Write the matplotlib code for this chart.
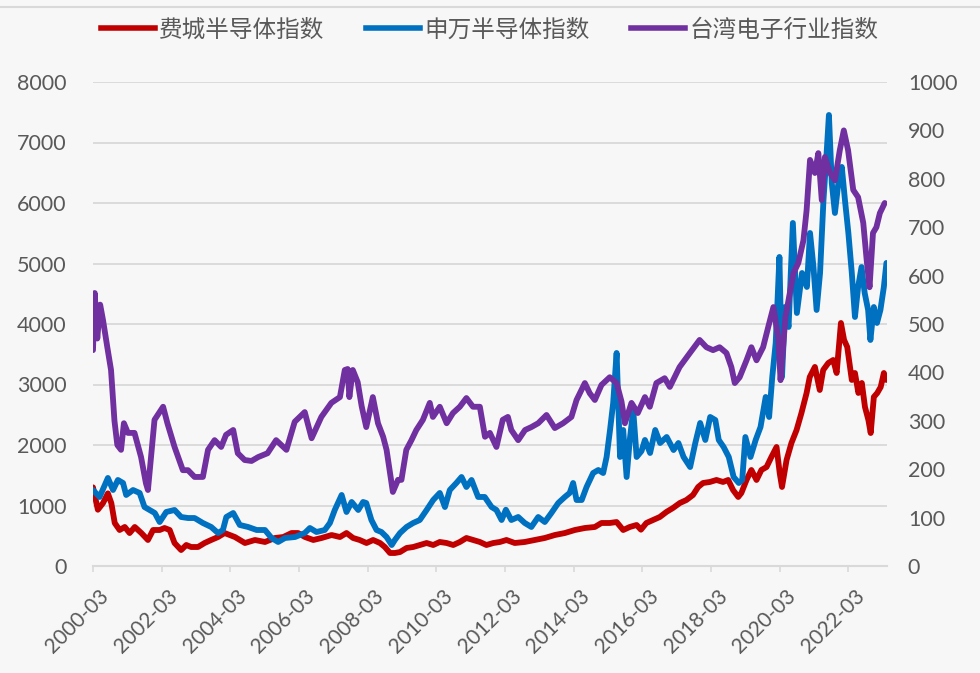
import matplotlib
matplotlib.use("Agg")
import matplotlib.pyplot as plt
from matplotlib import font_manager
from matplotlib.lines import Line2D
from matplotlib.transforms import ScaledTranslation

# ---------------- data (x = months since 2000-03) ----------------
sox_x = [0, 1.7, 3.5, 5.2, 6.4, 7.6, 9.3, 11.1, 12.8, 14.6, 16.9, 19.2, 21, 23.3, 25, 26.8, 28.5, 30.8,
         32.6, 34.3, 36.7, 39, 41.3, 43.7, 46, 49.6, 53.1, 56.6, 60.1, 63.6, 66.5, 69.4, 71.7, 74.1, 77,
         79.9, 83.4, 86.3, 88.6, 90.9, 93.2, 95.6, 97.9, 100.3, 102, 103.8, 105.5, 107.3, 109.6, 111.9,
         114.2, 116.6, 118.9, 121.2, 123.6, 125.9, 128.2, 130.5, 132.9, 135.2, 137.5, 139.9, 142.2, 144.5,
         147.4, 150.9, 154.4, 157.9, 161.4, 164.9, 168.4, 171.9, 175.4, 177.7, 180.6, 183, 185.3, 187.6,
         190, 191.5, 193.4, 195.7, 198.1, 200.4, 202.7, 205.1, 207.4, 209.7, 211.5, 213.2, 215.6, 217.9,
         220.2, 222, 223.7, 225.5, 226.6, 228.4, 230.1, 231.9, 233.6, 235.4, 237.1, 238.9, 240, 240.8,
         242.4, 244.1, 245.9, 247.6, 249.4, 250.5, 252.3, 254, 255.2, 257, 258.7, 259.9, 261.4, 262.5,
         263.6, 265.2, 266.3, 267.5, 268.7, 269.8, 271, 271.8, 272.9, 274.1, 275.3, 276.4, 277.3]
sox_v = [1300, 930, 1040, 1200, 1040, 710, 595, 645, 545, 645, 545, 430, 595, 595, 628, 595, 380, 264,
         347, 314, 314, 380, 430, 479, 545, 479, 380, 430, 397, 463, 479, 545, 545, 479, 430,
         463, 512, 479, 545, 463, 430, 380, 430, 380, 314, 215, 215, 231, 298, 314,
         347, 380, 347, 397, 380, 347, 397, 463, 430, 397, 347, 380, 397, 430,
         380, 397, 430, 463, 512, 545, 595, 628, 645, 711, 711, 727, 595, 645,
         678, 600, 711, 760, 810, 893, 959, 1041, 1091, 1174, 1306, 1372, 1389, 1422,
         1389, 1422, 1256, 1141, 1207, 1422, 1587, 1422, 1587, 1636, 1802, 1967, 1537, 1306,
         1752, 2033, 2248, 2529, 2860, 3124, 3290, 2909, 3240, 3356, 3405, 3190, 4017, 3736,
         3620, 3075, 3190, 2860, 3025, 2628, 2413, 2198, 2794, 2860, 2959, 3190, 3075]

sw_x = [0, 2.3, 5.2, 7, 8.7, 10.5, 11.6, 14, 16.3, 18, 19.8, 21.6, 23.3, 25.6, 28.5, 30.8, 33.2, 35.5,
        38.4, 41.3, 43.7, 45.4, 46.6, 49, 51.3, 54.2, 57.2, 60.1, 62.4, 64.7, 67.1, 70.6, 74, 75.8, 78.1,
        81, 82.8, 84.5, 86.9, 88.6, 90.4, 92.7, 94.4, 95.5, 97.3, 99.1, 100.8, 102.6, 104.4, 105.5, 107.3,
        109.6, 111.9, 114.2, 116.6, 118.9, 121.2, 123, 124.7, 127, 128.8, 130.5, 132.3, 134.6, 136.9,
        139.3, 141, 142.8, 144.3, 146.2, 148.6, 150.9, 153.2, 155.6, 157.9, 160.2, 162.6, 164.9, 166.6,
        167.8, 169, 170.8, 172.5, 174.8, 176.6, 178.3, 179.5, 180.7, 181.8, 183, 184.2, 185.3, 186.5,
        187.6, 188.8, 190, 191.7, 192.9, 194.7, 196.5, 198.2, 200.5, 202.9, 204.6, 206.4, 208.7, 210.5,
        212.2, 214, 215.7, 217.5, 218.7, 220.4, 222.2, 223.9, 225.7, 226.9, 228, 229.8, 231.6, 233.3,
        235.1, 236.3, 237.4, 238.6, 239.9, 240.8, 241.9, 243.1, 244.6, 246, 247.8, 249.5, 250.6, 251.8,
        252.9, 254.1, 255.3, 256.4, 257.2, 258.2, 259.3, 260.5, 261.7, 262.8, 264, 265.2, 266.3, 267.4,
        268.6, 269.7, 270.9, 271.7, 272.9, 274, 275.2, 276.4, 277.3]
sw_v = [1256, 1141, 1455, 1256, 1422, 1372, 1174, 1256, 1207, 975, 926, 876, 727, 893, 926, 810, 793, 793,
        711, 645, 545, 595, 810, 876, 678, 645, 595, 595, 463, 397, 463, 479, 545, 628, 562,
        595, 711, 926, 1174, 893, 1058, 926, 1058, 1041, 760, 595, 562, 479, 347, 430, 545,
        645, 711, 760, 926, 1091, 1207, 975, 1256, 1372, 1471, 1306, 1422, 1141, 1141,
        975, 926, 760, 930, 760, 810, 711, 645, 810, 727, 876, 1041, 1141, 1207,
        1372, 1091, 1091, 1306, 1537, 1587, 1537, 1802, 2248, 2694, 3521, 1802, 2248, 1471,
        2083, 2579, 1802, 1900, 2083, 1868, 2248, 2033, 2132, 1917, 2033, 1802, 1636, 2033,
        2364, 2083, 2463, 2413, 2083, 1967, 1802, 1471, 1372, 1422, 2132, 1802, 2083, 2298,
        2794, 2463, 3124, 3686, 5108, 3124, 4281, 3951, 5670, 4182, 4843, 4612, 5504, 4942,
        4232, 4843, 6050, 6827, 7455, 6331, 5835, 6331, 6596, 6050, 5504, 4843, 4116, 4612,
        4942, 4513, 4232, 3736, 4281, 4017, 4232, 4612, 5009]

tw_x = [0, 0.6, 1.5, 2.5, 3.5, 5, 6.3, 7.5, 8.5, 9.8, 10.8, 12.2, 14.5, 16.8, 18.5, 19.2, 21.5, 24.5, 26,
        28.5, 31.4, 33.2, 35.5, 38.4, 40.2, 42.5, 44.8, 46.5, 49, 50.6, 53, 55.4, 57.7, 61, 64, 67.6, 70.5,
        74, 76.4, 79.8, 83.3, 86.3, 88, 89, 89.6, 90.8, 92.5, 93.9, 95.5, 97.8, 99.6, 101.4, 102.6, 103.8,
        104.8, 106.6, 107.8, 109.5, 111.3, 113, 115.3, 117.7, 118.8, 121.2, 123.6, 125.8, 128.2, 130.5,
        132.8, 135.2, 137, 138.7, 141, 143.2, 145, 146.2, 148.6, 151, 153.2, 155.6, 158.5, 161.4, 164.3,
        167.2, 169, 171.9, 173.6, 175.4, 177.7, 180.6, 183, 184.7, 185.9, 188.2, 190.4, 192.9, 194.6,
        196.9, 199.8, 201.6, 205, 208.6, 212, 214.4, 216.7, 219, 221.4, 223.1, 224.3, 226, 228.4, 230.1,
        231.9, 234.2, 236, 237.8, 239.5, 240.3, 242, 244.8, 246.5, 248.3, 249.4, 250.6, 252.3, 253.5,
        254.7, 255.8, 257.6, 259.3, 261, 262.4, 263.9, 265.7, 267.4, 269.2, 270.4, 271.4, 272.6, 273.8,
        275, 276.7]
tw_v = [446, 564, 470, 540, 508, 452, 405, 300, 250, 240, 295, 275, 275, 225, 171, 157, 302, 329, 295,
        246, 198, 198, 184, 184, 240, 260, 246, 271, 281, 233, 219, 217, 225, 233, 260, 240, 298,
        318, 264, 308, 337, 349, 405, 407, 349, 405, 380, 330, 287, 349, 295, 267, 240, 192,
        153, 178, 178, 240, 260, 281, 302, 337, 308, 329, 295, 316, 329, 347,
        329, 329, 267, 275, 246, 302, 308, 281, 260, 281, 287, 295, 312, 285, 295,
        308, 343, 378, 357, 343, 374, 390, 378, 340, 295, 337, 316, 349, 329,
        378, 388, 370, 411, 440, 467, 452, 446, 452, 440, 411, 378, 390, 425, 452,
        425, 452, 494, 535, 470, 384, 514, 605, 626, 673, 735, 839, 812, 853,
        756, 845, 812, 797, 859, 900, 859, 777, 762, 709, 632, 576, 688, 700,
        729, 750]

tick_pos = [0, 24, 48, 72, 96, 120, 144, 168, 192, 216, 240, 264]
tick_labels = ["2000-03", "2002-03", "2004-03", "2006-03", "2008-03", "2010-03",
               "2012-03", "2014-03", "2016-03", "2018-03", "2020-03", "2022-03"]
series_names = ["费城半导体指数", "申万半导体指数", "台湾电子行业指数"]
colors = ["#C00000", "#0070C0", "#7030A0"]

# ---------------- fonts ----------------
avail = {f.name for f in font_manager.fontManager.ttflist}
num_font = next((f for f in ["Lato", "Open Sans", "Noto Sans"] if f in avail), "DejaVu Sans")
plt.rcParams['font.family'] = ['Noto Sans CJK SC', 'DejaVu Sans']

BG = "#F7F7F7"
TXT = "#595959"
GRID = "#D9D9D9"

fig = plt.figure(figsize=(9.8, 6.73), dpi=100, facecolor=BG)
ax = fig.add_axes([93/980, 1 - 566/673, (887 - 93)/980, (566 - 82)/673])
ax.set_facecolor(BG)
ax2 = ax.twinx()
ax2.patch.set_visible(False)

lw = 4.2
ax.plot(sox_x, sox_v, color=colors[0], lw=lw, solid_joinstyle='round', solid_capstyle='round', zorder=3)
ax.plot(sw_x, sw_v, color=colors[1], lw=lw, solid_joinstyle='round', solid_capstyle='round', zorder=3)
ax2.plot(tw_x, tw_v, color=colors[2], lw=lw, solid_joinstyle='round', solid_capstyle='round', zorder=3)

ax.set_xlim(0, 277.5)
ax.set_ylim(0, 8000)
ax2.set_ylim(0, 1000)
ax.set_yticks(range(0, 8001, 1000))
ax2.set_yticks(range(0, 1001, 100))
ax.yaxis.grid(True, color=GRID, lw=1.3)
ax.set_axisbelow(True)

for a in (ax, ax2):
    for s in a.spines.values():
        s.set_visible(False)
ax.spines['bottom'].set_visible(True)
ax.spines['bottom'].set_color(GRID)
ax.spines['bottom'].set_linewidth(1.5)

ax.set_xticks(tick_pos)
ax.set_xticklabels(tick_labels, rotation=45, ha='right', rotation_mode='anchor',
                   fontsize=15, color=TXT, family=num_font)
ax.tick_params(axis='x', length=4.5, width=1.2, color=GRID, pad=10)
shift = ScaledTranslation(6/100, 0, fig.dpi_scale_trans)
for lab in ax.get_xticklabels():
    lab.set_transform(lab.get_transform() + shift)
ax.tick_params(axis='y', length=0, pad=19, labelsize=15.5, labelcolor=TXT)
ax2.tick_params(axis='y', length=0, pad=15, labelsize=15.5, labelcolor=TXT)
for lab in ax.get_yticklabels() + ax2.get_yticklabels():
    lab.set_family(num_font)

# legend
handles = [Line2D([0], [0], color=c, lw=4) for c in colors]
fig.legend(handles, series_names, loc='center left', bbox_to_anchor=(101/980, 1 - 30/673),
           ncol=3, frameon=False, fontsize=17, handlelength=2.3, handletextpad=0.17,
           columnspacing=1.75, labelcolor=TXT, borderaxespad=0, borderpad=0)

# top border line
fig.add_artist(Line2D([0, 1], [1 - 7/673, 1 - 7/673], transform=fig.transFigure,
                      color=GRID, lw=1.5))

fig.savefig("out.png", dpi=100, facecolor=BG)
